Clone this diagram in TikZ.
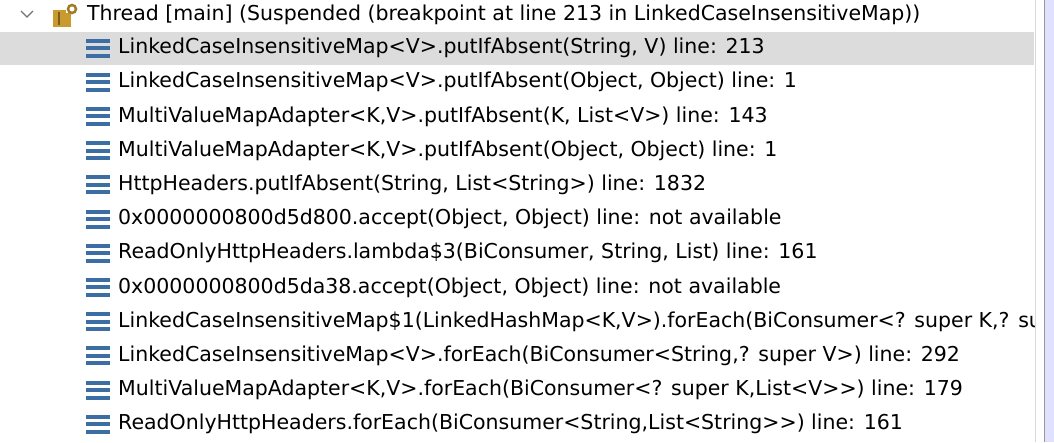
\documentclass[tikz,border=0pt]{standalone}
\usepackage{fontspec}
\setmainfont{DejaVu Sans}
\usetikzlibrary{positioning}
\definecolor{framebar}{HTML}{3A6EA5}
\definecolor{selrow}{HTML}{DCDCDC}
\definecolor{threadgold}{HTML}{C99A2E}
\begin{document}
\begin{tikzpicture}
[x=1pt,y=-1pt,
 framelabel/.style={anchor=west,inner sep=0pt,font=\fontsize{20.5}{21}\selectfont},
 bar/.style={fill=framebar,draw=none}]
\useasboundingbox (0,0) rectangle (1054,442);
\fill[white] (0,0) rectangle (1054,442);
% selected row
\fill[selrow] (0,32) rectangle (1034,65);
% right border and scroll area
\draw[black!15,line width=1pt] (1035,0) -- (1035,442);
\draw[black!40,line width=1pt] (1044,0) -- (1044,442);
\fill[blue!12] (1045,0) rectangle (1054,442);
% thread row
\draw[black!55,line width=1.3pt] (21,11) -- (27,17) -- (33,11);
\fill[threadgold] (53,10) rectangle (66,27);
\fill[threadgold!60!black] (58,12) rectangle (60,25);
\fill[threadgold] (66,13) rectangle (71,27);
\draw[threadgold!80!black,line width=2.5pt] (72,9) circle (4);
\fill[white] (72,9) circle (1.5);
\begin{scope}
\clip (0,0) rectangle (1034,442);
\node[framelabel] (thread) at (87,15) {Thread [main] (Suspended (breakpoint at line 213 in LinkedCaseInsensitiveMap))};
% stack frames
\foreach \i/\txt in {
 0/{LinkedCaseInsensitiveMap<V>.putIfAbsent(String, V) line: 213},
 1/{LinkedCaseInsensitiveMap<V>.putIfAbsent(Object, Object) line: 1},
 2/{MultiValueMapAdapter<K,V>.putIfAbsent(K, List<V>) line: 143},
 3/{MultiValueMapAdapter<K,V>.putIfAbsent(Object, Object) line: 1},
 4/{HttpHeaders.putIfAbsent(String, List<String>) line: 1832},
 5/{0x0000000800d5d800.accept(Object, Object) line: not available},
 6/{ReadOnlyHttpHeaders.lambda\$3(BiConsumer, String, List) line: 161},
 7/{0x0000000800d5da38.accept(Object, Object) line: not available},
 8/{LinkedCaseInsensitiveMap\$1(LinkedHashMap<K,V>).forEach(BiConsumer<? super K,? super V>)},
 9/{LinkedCaseInsensitiveMap<V>.forEach(BiConsumer<String,? super V>) line: 292},
 10/{MultiValueMapAdapter<K,V>.forEach(BiConsumer<? super K,List<V>{}>) line: 179},
 11/{ReadOnlyHttpHeaders.forEach(BiConsumer<String,List<String>{}>) line: 161}}
{
 \pgfmathsetmacro{\yy}{48+34.2*\i}
 \foreach \d in {-7.5,0,7.5}
   \fill[bar] (86,\yy+\d-2) rectangle (110,\yy+\d+2);
 \node[framelabel] (frame\i) at (118,\yy) {\txt};
}
\end{scope}
\end{tikzpicture}
\end{document}
